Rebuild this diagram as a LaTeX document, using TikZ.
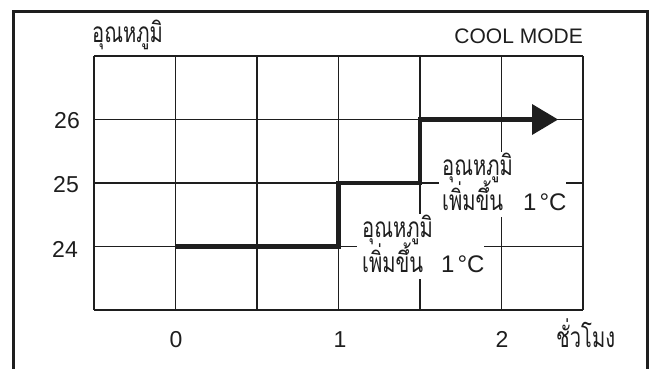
\documentclass[tikz,border=0pt]{standalone}
\usepackage{fontspec}
\setmainfont{Liberation Sans}
\newfontfamily\thaifont[Script=Thai,FakeStretch=0.72]{Loma}
\definecolor{ink}{HTML}{1E1E1E}
\tikzset{
  gridline/.style={line width=1.5pt, draw=ink},
  frameline/.style={line width=3pt, draw=ink},
  stepline/.style={line width=4.5pt, draw=ink},
  lat/.style={font=\fontsize{23}{27}\selectfont, inner sep=0pt, text=ink},
  deg/.style={font=\fontsize{24}{28}\selectfont, inner sep=0pt, text=ink},
  modelab/.style={font=\fontsize{21}{25}\selectfont, inner sep=0pt, text=ink},
  th/.style={font=\thaifont\fontsize{28}{32}\selectfont, inner sep=0pt, text=ink},
}
\begin{document}
\begin{tikzpicture}[x=1pt,y=-1pt]
\useasboundingbox (0,0) rectangle (650,368);
\clip (0,0) rectangle (650,368);
\fill[white] (0,0) rectangle (650,368);
\draw[frameline] (13.5,11) rectangle (647,380);
% grid
\foreach \i in {0,...,6} \draw[gridline] (94+81.5*\i,56) -- (94+81.5*\i,310);
\foreach \j in {0,...,4} \draw[gridline] (94,56+63.5*\j) -- (583,56+63.5*\j);
% white label backgrounds
\fill[white] (357,214) rectangle (484,279);
\fill[white] (439,152) rectangle (566,217);
% step line
\draw[stepline] (175.5,246.5) -- (338.5,246.5) -- (338.5,183) -- (420,183) -- (420,119.5) -- (534,119.5);
\fill[ink] (532,104) -- (558,119.5) -- (532,135) -- cycle;
% texts
\node[th, anchor=base west] (ytitle) at (92,42) {อุณหภูมิ};
\node[modelab, anchor=base east] (mode) at (583,43) {COOL MODE};
\node[lat, anchor=base east] (y26) at (80,128) {26};
\node[lat, anchor=base east] (y25) at (79,192) {25};
\node[lat, anchor=base east] (y24) at (78,257) {24};
\node[lat, anchor=base] (x0) at (176,347) {0};
\node[lat, anchor=base] (x1) at (340,347) {1};
\node[lat, anchor=base] (x2) at (502,347) {2};
\node[th, anchor=base west] (xtitle) at (556,347) {ชั่วโมง};
% upper label
\node[th, anchor=base west] (ua) at (442,175) {อุณหภูมิ};
\node[th, anchor=base west] (ub) at (442,210) {เพิ่มขึ้น};
\node[deg, anchor=base west] (uc) at (523,210) {1\kern3pt°C};
% lower label
\node[th, anchor=base west] (la) at (362,237) {อุณหภูมิ};
\node[th, anchor=base west] (lb) at (362,272) {เพิ่มขึ้น};
\node[deg, anchor=base west] (lc) at (441,272) {1\kern3pt°C};
\end{tikzpicture}
\end{document}
